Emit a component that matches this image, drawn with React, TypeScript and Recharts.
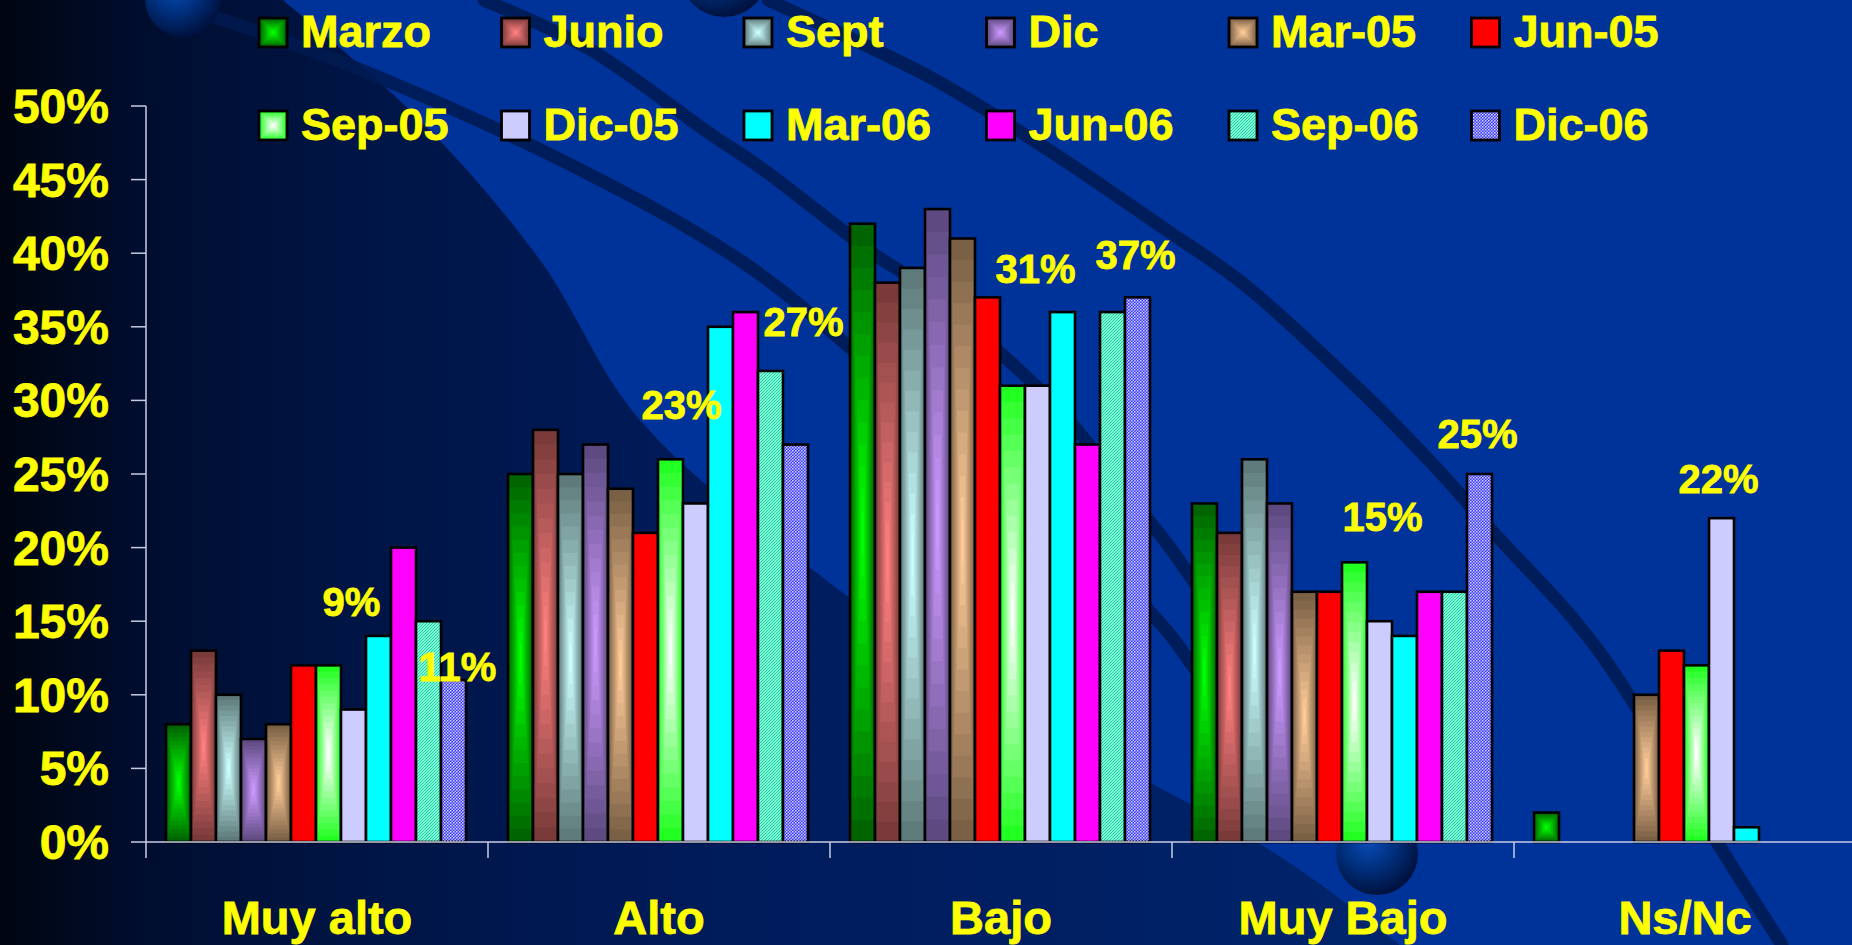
import React from 'react';
import { BarChart, Bar, XAxis, YAxis, Legend, LabelList } from 'recharts';

// ---------- DATA ----------
const categories = ['Muy alto', 'Alto', 'Bajo', 'Muy Bajo', 'Ns/Nc'];
const seriesNames = ['Marzo', 'Junio', 'Sept', 'Dic', 'Mar-05', 'Jun-05', 'Sep-05', 'Dic-05', 'Mar-06', 'Jun-06', 'Sep-06', 'Dic-06'];
const marzo = [8, 25, 42, 23, 2];
const junio = [13, 28, 38, 21, null];
const sept = [10, 25, 39, 26, null];
const dic = [7, 27, 43, 23, null];
const mar05 = [8, 24, 41, 17, 10];
const jun05 = [12, 21, 37, 17, 13];
const sep05 = [12, 26, 31, 19, 12];
const dic05 = [9, 23, 31, 15, 22];
const mar06 = [14, 35, 36, 14, 1];
const jun06 = [20, 36, 27, 17, null];
const sep06 = [15, 32, 36, 17, null];
const dic06 = [11, 27, 37, 25, null];
const yTicks = [0, 5, 10, 15, 20, 25, 30, 35, 40, 45, 50];

const seriesValues = [marzo, junio, sept, dic, mar05, jun05, sep05, dic05, mar06, jun06, sep06, dic06];

// label placement offsets (text centre relative to bar top centre)
const dic05LabelOffset = [[-2, -108], [-14, -98], [-2, -117], [3, -104], [-3, -39]];
const dic06LabelOffset = [[4, -13], [8, -123], [-2, -42], [-2, -40], [0, -40]];

// ---------- STYLE ----------
const FONT = '"Liberation Sans", Arial, Helvetica, sans-serif';
const YELLOW = '#FFFF00';
const TEXT_STROKE = 0.8;
const AXIS_COLOR = '#C8CCE0';
const CHART_W = 1860;
const CHART_H = 945;
const Y_AXIS_W = 146;
const X_AXIS_H = 103;
const M_TOP = 106;
const M_RIGHT = 4;
const PLOT_W = CHART_W - Y_AXIS_W - M_RIGHT;
const CAT_W = PLOT_W / categories.length;
const AXIS_Y = CHART_H - X_AXIS_H;

type Style =
  | { kind: 'grad'; edge: string; center: string }
  | { kind: 'solid'; fill: string }
  | { kind: 'pattern'; id: string };

const seriesStyles: Style[] = [
  { kind: 'grad', edge: '#006400', center: '#00FF00' },
  { kind: 'grad', edge: '#7A3A3A', center: '#FF8080' },
  { kind: 'grad', edge: '#5E7A7A', center: '#CCFFFF' },
  { kind: 'grad', edge: '#5E4A80', center: '#CC99FF' },
  { kind: 'grad', edge: '#7A6045', center: '#FFCC99' },
  { kind: 'solid', fill: '#FF0000' },
  { kind: 'grad', edge: '#22FF22', center: '#FFFFFF' },
  { kind: 'solid', fill: '#CCCCFF' },
  { kind: 'solid', fill: '#00FFFF' },
  { kind: 'solid', fill: '#FF00FF' },
  { kind: 'pattern', id: 'hatchSep06' },
  { kind: 'pattern', id: 'checkDic06' },
];

const data = categories.map((name, i) => {
  const row: any = { name };
  seriesNames.forEach((s, j) => {
    row[s] = seriesValues[j][i];
  });
  return row;
});

function hex(c: string) {
  return [1, 3, 5].map((k) => parseInt(c.slice(k, k + 2), 16));
}
function mix(a: string, b: string, t: number) {
  const A = hex(a);
  const B = hex(b);
  const r = A.map((v, i) => Math.round(v + (B[i] - v) * t));
  return `rgb(${r[0]},${r[1]},${r[2]})`;
}

function PatternDefs({ suffix }: { suffix: string }) {
  return (
    <defs>
      <pattern id={`hatchSep06${suffix}`} patternUnits="userSpaceOnUse" width={3} height={3}>
        <rect x={0} y={0} width={3} height={3} fill="#80FFD4" />
        <path d="M-1,1 L1,-1 M0,3 L3,0 M2,4 L4,2" stroke="#22CCA8" strokeWidth={1} />
      </pattern>
      <pattern id={`checkDic06${suffix}`} patternUnits="userSpaceOnUse" width={3} height={3}>
        <rect x={0} y={0} width={3} height={3} fill="#3838FF" />
        <rect x={0} y={0} width={1.5} height={1.5} fill="#D8D8FF" />
        <rect x={1.5} y={1.5} width={1.5} height={1.5} fill="#B8B8FF" />
      </pattern>
    </defs>
  );
}

function Glyph({ x, y, w, h, st, suffix, sw }: any) {
  let body: any;
  if (st.kind === 'grad') {
    const N = 14;
    body = Array.from({ length: N }, (_, k) => {
      const f = k / N;
      const ix = (w / 2) * f;
      const iy = (h / 2) * f;
      return (
        <rect key={k} x={x + ix} y={y + iy} width={w - 2 * ix} height={h - 2 * iy} fill={mix(st.edge, st.center, k / (N - 1))} />
      );
    });
  } else if (st.kind === 'solid') {
    body = <rect x={x} y={y} width={w} height={h} fill={st.fill} />;
  } else {
    body = <rect x={x} y={y} width={w} height={h} fill={`url(#${st.id}${suffix})`} />;
  }
  return (
    <g>
      {body}
      <rect x={x} y={y} width={w} height={h} fill="none" stroke="#000" strokeWidth={sw} />
    </g>
  );
}

const makeShape = (st: Style) => (props: any) => {
  const { x, y, width, height } = props;
  if (height == null || !(height > 0) || width == null) return <g />;
  return <Glyph x={x} y={y} w={width} h={height} st={st} suffix="" sw={2.6} />;
};

const makeLabel = (offsets: number[][]) => (props: any) => {
  const vb = props.viewBox || props;
  const { value, index } = props;
  if (value == null || vb == null) return null;
  const off = offsets[index] || [0, -40];
  const cx = vb.x + vb.width / 2 + off[0];
  const cy = vb.y + off[1];
  return (
    <text x={cx} y={cy} textAnchor="middle" dominantBaseline="central" fill={YELLOW} stroke={YELLOW} strokeWidth={TEXT_STROKE} fontFamily={FONT} fontWeight="bold" fontSize={40}>
      {`${value}%`}
    </text>
  );
};

const XTick = (props: any) => {
  const { x, y, payload } = props;
  const bx = x - CAT_W / 2;
  return (
    <g>
      <line x1={bx} x2={bx} y1={AXIS_Y} y2={AXIS_Y + 16} stroke={AXIS_COLOR} strokeWidth={1.5} />
      <text x={x} y={y + 92} textAnchor="middle" fill={YELLOW} stroke={YELLOW} strokeWidth={TEXT_STROKE} fontFamily={FONT} fontWeight="bold" fontSize={47}>
        {payload.value}
      </text>
    </g>
  );
};

const LegendContent = () => (
  <svg width={1852} height={160} style={{ display: 'block' }}>
    <PatternDefs suffix="L" />
    {seriesNames.map((n, i) => {
      const col = i % 6;
      const row = Math.floor(i / 6);
      const left = 259 + col * 242.5;
      const base = 47 + row * 93;
      return (
        <g key={n}>
          <Glyph x={left} y={base - 29} w={28} h={29} st={seriesStyles[i]} suffix="L" sw={2.8} />
          <text x={left + 42} y={base} fill={YELLOW} stroke={YELLOW} strokeWidth={TEXT_STROKE} fontFamily={FONT} fontWeight="bold" fontSize={45}>
            {n}
          </text>
        </g>
      );
    })}
  </svg>
);

// ---------- BACKGROUND DECORATION ----------
function smoothPath(pts: number[][]) {
  let d = `M${pts[0][0]},${pts[0][1]}`;
  for (let i = 0; i < pts.length - 1; i++) {
    const p0 = pts[i - 1] || pts[i];
    const p1 = pts[i];
    const p2 = pts[i + 1];
    const p3 = pts[i + 2] || p2;
    const c1 = [p1[0] + (p2[0] - p0[0]) / 6, p1[1] + (p2[1] - p0[1]) / 6];
    const c2 = [p2[0] - (p3[0] - p1[0]) / 6, p2[1] - (p3[1] - p1[1]) / 6];
    d += ` C${c1[0]},${c1[1]} ${c2[0]},${c2[1]} ${p2[0]},${p2[1]}`;
  }
  return d;
}
const darkBoundary = [[283, 0], [420, 120], [540, 260], [640, 420], [800, 560], [1000, 700], [1257, 842], [1400, 945]];
const line1 = [[200, 12], [354, 67], [561, 160], [744, 263], [900, 390], [1050, 510], [1150, 612], [1192, 665], [1270, 780]];
const line2 = [[484, 0], [591, 50], [709, 133], [768, 173], [868, 250], [926, 290], [1050, 400], [1150, 522], [1192, 579], [1300, 740], [1377, 854]];
const line3 = [[768, 0], [926, 75], [1044, 147], [1162, 227], [1251, 290], [1363, 393], [1440, 472], [1493, 532], [1576, 622], [1635, 705], [1717, 842], [1782, 945]];

const Background = () => {
  const boundary = smoothPath(darkBoundary);
  const region = `${boundary} L0,945 L0,0 Z`;
  return (
    <svg width={1852} height={945} style={{ position: 'absolute', left: 0, top: 0 }}>
      <defs>
        <linearGradient id="darkGrad" gradientUnits="userSpaceOnUse" x1={0} y1={0} x2={1400} y2={0}>
          <stop offset="0" stopColor="#000510" />
          <stop offset="0.1" stopColor="#000d2e" />
          <stop offset="0.25" stopColor="#001545" />
          <stop offset="0.5" stopColor="#001b5a" />
          <stop offset="1" stopColor="#00246c" />
        </linearGradient>
        <radialGradient id="sphere" cx="0.4" cy="0.35" r="0.65">
          <stop offset="0" stopColor="#0a4cb8" />
          <stop offset="0.5" stopColor="#00307e" />
          <stop offset="1" stopColor="#00123f" />
        </radialGradient>
      </defs>
      <rect x={0} y={0} width={1852} height={945} fill="#003399" />
      <path d={region} fill="url(#darkGrad)" />
      {[line1, line2, line3].map((l, i) => (
        <path key={i} d={smoothPath(l)} fill="none" stroke="#001a50" strokeOpacity={0.85} strokeWidth={13} strokeLinecap="round" />
      ))}
      <circle cx={183} cy={-1} r={38} fill="url(#sphere)" />
      <circle cx={724} cy={-27} r={44} fill="url(#sphere)" />
      <circle cx={1377} cy={854} r={41} fill="url(#sphere)" />
    </svg>
  );
};

export default function App() {
  return (
    <div style={{ position: 'absolute', left: 0, top: 0, width: 1852, height: 945, overflow: 'hidden', background: '#003399' }}>
      <Background />
      <div style={{ position: 'absolute', left: 0, top: 0 }}>
        <BarChart
          width={CHART_W}
          height={CHART_H}
          data={data}
          margin={{ top: M_TOP, right: M_RIGHT, bottom: 0, left: 0 }}
          barCategoryGap={20}
          barGap={0}
        >
          <PatternDefs suffix="" />
          <XAxis
            dataKey="name"
            height={X_AXIS_H}
            interval={0}
            tickLine={false}
            tickSize={0}
            tickMargin={0}
            axisLine={{ stroke: AXIS_COLOR, strokeWidth: 1.5 }}
            tick={<XTick />}
          />
          <YAxis
            width={Y_AXIS_W}
            domain={[0, 50]}
            ticks={yTicks}
            interval={0}
            tickFormatter={(v: number) => `${v}%`}
            tickSize={15}
            tickMargin={22}
            axisLine={{ stroke: AXIS_COLOR, strokeWidth: 1.5 }}
            tickLine={{ stroke: AXIS_COLOR, strokeWidth: 1.5 }}
            tick={{ fill: YELLOW, stroke: YELLOW, strokeWidth: TEXT_STROKE, fontSize: 48, fontWeight: 'bold', fontFamily: FONT }}
          />
          <Legend layout="horizontal" verticalAlign="middle" align="center" wrapperStyle={{ position: 'absolute', top: 0, left: 0, width: 1852, height: 160 }} content={<LegendContent />} />
          {seriesNames.map((s, j) => (
            <Bar key={s} dataKey={s} isAnimationActive={false} shape={makeShape(seriesStyles[j])}>
              {s === 'Dic-05' && <LabelList dataKey={s} content={makeLabel(dic05LabelOffset)} />}
              {s === 'Dic-06' && <LabelList dataKey={s} content={makeLabel(dic06LabelOffset)} />}
            </Bar>
          ))}
        </BarChart>
      </div>
    </div>
  );
}
